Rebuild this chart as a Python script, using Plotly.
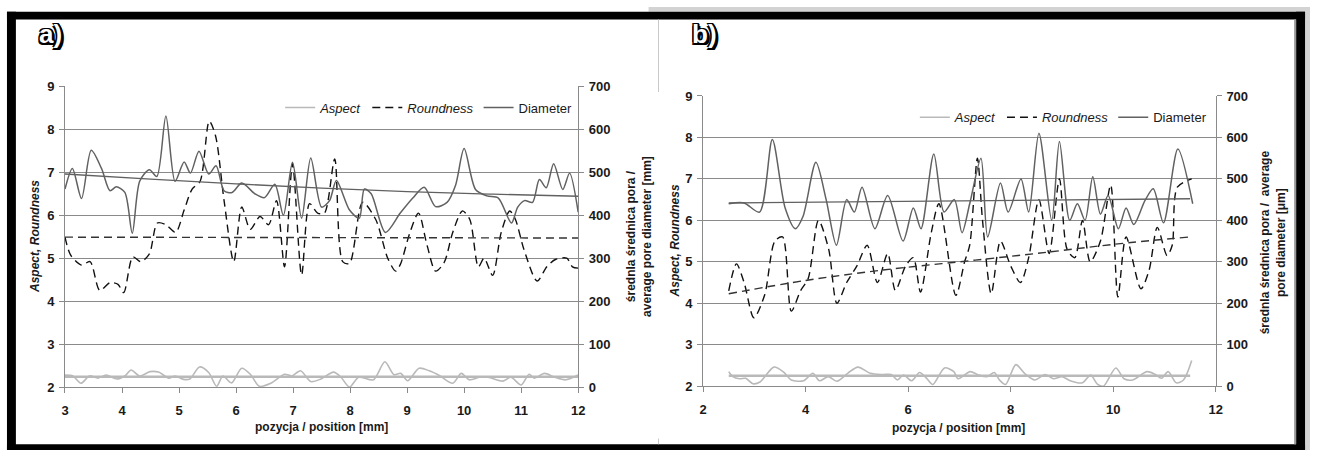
import plotly.graph_objects as go

W, H = 1317, 458

# ---- panel a: position [mm] vs shape factors / pore diameter ----
x_asp_a = [3.0, 3.14, 3.28, 3.43, 3.58, 3.72, 3.91, 4.05, 4.16, 4.31, 4.49, 4.64, 4.82, 4.93,
           5.08, 5.19, 5.36, 5.52, 5.66, 5.77, 5.92, 6.1, 6.25, 6.41, 6.61, 6.85, 6.98, 7.13,
           7.31, 7.49, 7.71, 7.84, 7.99, 8.15, 8.41, 8.61, 8.77, 8.89, 9.01, 9.21, 9.39, 9.58,
           9.8, 9.95, 10.09, 10.27, 10.42, 10.68, 10.82, 11.0, 11.14, 11.23, 11.41, 11.59,
           11.78, 12.0]
asp_a = [2.28, 2.26, 2.09, 2.26, 2.21, 2.28, 2.19, 2.26, 2.4, 2.26, 2.36, 2.35, 2.21, 2.26,
         2.18, 2.19, 2.47, 2.34, 2.02, 2.26, 2.1, 2.44, 2.3, 2.02, 2.09, 2.3, 2.26, 2.38,
         2.13, 2.19, 2.35, 2.23, 2.0, 2.23, 2.17, 2.59, 2.29, 2.32, 2.15, 2.44, 2.38, 2.26,
         2.09, 2.32, 2.17, 2.23, 2.23, 2.14, 2.23, 2.05, 2.3, 2.21, 2.32, 2.23, 2.17, 2.28]
x_asp_trend_a = [3.0, 12.0]
asp_trend_a = [2.24, 2.24]

x_rnd_a = [3.0, 3.1, 3.29, 3.44, 3.61, 3.79, 3.93, 4.03, 4.19, 4.33, 4.48, 4.62, 4.77, 4.94,
           5.09, 5.23, 5.37, 5.53, 5.64, 5.79, 5.96, 6.1, 6.25, 6.42, 6.57, 6.71, 6.85, 6.99,
           7.15, 7.29, 7.43, 7.55, 7.73, 7.87, 7.99, 8.22, 8.45, 8.66, 8.8, 8.88, 9.05, 9.2,
           9.35, 9.5, 9.65, 9.8, 9.97, 10.1, 10.25, 10.35, 10.5, 10.65, 10.8, 10.9, 11.05,
           11.28, 11.45, 11.6, 11.8, 11.9, 12.0]
rnd_a = [5.49, 5.07, 4.84, 4.92, 4.25, 4.43, 4.39, 4.2, 5.03, 4.92, 5.1, 5.82, 5.78, 5.6,
         6.12, 6.61, 6.79, 8.19, 7.85, 6.34, 4.92, 6.19, 5.67, 5.97, 5.78, 6.34, 4.8, 7.2,
         4.61, 6.27, 6.05, 6.05, 7.31, 4.92, 4.88, 6.3, 5.9, 5.0, 4.7, 4.85, 5.6, 6.05,
         5.3, 4.7, 4.9, 5.6, 6.1, 5.9, 4.8, 5.0, 4.6, 5.6, 6.1, 5.9, 5.2,
         4.47, 4.8, 4.97, 5.0, 4.8, 4.77]
x_rnd_trend_a = [3.0, 12.0]
rnd_trend_a = [5.49, 5.47]

x_dia_a = [3.0, 3.13, 3.29, 3.46, 3.64, 3.79, 3.9, 4.05, 4.18, 4.31, 4.48, 4.61, 4.77, 4.93,
           5.09, 5.2, 5.35, 5.52, 5.65, 5.79, 5.93, 6.1, 6.33, 6.5, 6.68, 6.83, 6.99, 7.15,
           7.31, 7.5, 7.64, 7.76, 7.99, 8.16, 8.25, 8.37, 8.62, 8.88, 9.1, 9.3, 9.5, 9.7,
           9.85, 10.0, 10.2, 10.4, 10.6, 10.83, 10.94, 11.06, 11.2, 11.32, 11.44, 11.57,
           11.73, 11.85, 12.0]
dia_a = [461, 509, 439, 551, 509, 457, 466, 453, 358, 479, 506, 490, 631, 479,
         524, 498, 549, 496, 515, 457, 453, 475, 450, 441, 472, 400, 523, 393,
         533, 419, 434, 481, 412, 393, 461, 450, 360, 405, 440, 465, 420, 430,
         470, 555, 460, 445, 440, 382, 419, 434, 430, 483, 464, 520,
         460, 498, 407]
x_dia_trend_a = [3.0, 4.5, 6.0, 7.5, 9.0, 10.5, 12.0]
dia_trend_a = [496, 484, 473, 463, 455, 449, 444]

# ---- panel b ----
x_asp_b = [2.5, 2.58, 2.71, 2.83, 2.97, 3.11, 3.38, 3.56, 3.72, 3.96, 4.14, 4.27, 4.44, 4.61,
           4.82, 5.02, 5.26, 5.5, 5.67, 5.79, 5.91, 6.07, 6.22, 6.36, 6.48, 6.71, 6.89, 6.97,
           7.21, 7.37, 7.54, 7.68, 7.78, 7.9, 8.1, 8.27, 8.47, 8.67, 8.83, 9.0, 9.16, 9.4,
           9.56, 9.69, 9.81, 10.05, 10.21, 10.38, 10.66, 10.82, 10.94, 11.07, 11.23, 11.37,
           11.53]
asp_b = [2.35, 2.23, 2.18, 2.19, 2.06, 2.1, 2.46, 2.35, 2.15, 2.13, 2.31, 2.13, 2.23, 2.12,
         2.31, 2.46, 2.31, 2.28, 2.28, 2.15, 2.27, 2.13, 2.33, 2.19, 2.04, 2.44, 2.35, 2.18,
         2.35, 2.27, 2.23, 2.33, 2.15, 2.04, 2.52, 2.31, 2.15, 2.28, 2.18, 2.23, 2.13, 2.08,
         2.27, 2.05, 2.0, 2.44, 2.18, 2.15, 2.35, 2.28, 2.19, 2.35, 2.08, 2.15, 2.62]
x_asp_trend_b = [2.5, 11.5]
asp_trend_b = [2.25, 2.25]

x_rnd_b = [2.5, 2.65, 2.8, 2.99, 3.2, 3.4, 3.55, 3.72, 3.9, 4.05, 4.25, 4.45, 4.61, 4.8,
           5.0, 5.2, 5.4, 5.6, 5.75, 5.95, 6.1, 6.24, 6.45, 6.6, 6.93, 7.1, 7.2, 7.35, 7.45,
           7.62, 7.8, 8.0, 8.19, 8.35, 8.55, 8.75, 8.95, 9.1, 9.25, 9.4, 9.55, 9.75, 9.95,
           10.09, 10.25, 10.54, 10.7, 10.86, 11.05, 11.15, 11.25, 11.53]
rnd_b = [4.3, 4.95, 4.5, 3.65, 4.2, 5.5, 5.6, 3.81, 4.3, 4.6, 6.0, 5.3, 4.0, 4.5,
         4.9, 5.4, 4.5, 5.2, 4.31, 4.9, 5.1, 4.27, 5.7, 6.4, 4.19, 5.0, 5.4, 7.5, 6.0,
         4.23, 5.5, 4.9, 4.5, 5.1, 6.5, 5.2, 7.0, 5.3, 5.1, 6.0, 5.0, 5.5, 6.85,
         4.15, 5.6, 4.35, 4.8, 5.83, 5.15, 5.4, 6.8, 7.0]
x_rnd_trend_b = [2.5, 4.0, 5.5, 7.0, 8.5, 10.0, 11.5]
rnd_trend_b = [4.23, 4.55, 4.8, 5.0, 5.2, 5.42, 5.6]

x_dia_b = [2.5, 2.8, 3.1, 3.35, 3.6, 3.8, 3.95, 4.2, 4.4, 4.6, 4.8, 4.95, 5.1, 5.35, 5.6,
           5.9, 6.1, 6.25, 6.5, 6.7, 6.9, 7.05, 7.2, 7.42, 7.55, 7.8, 7.95, 8.2, 8.35, 8.55,
           8.8, 8.95, 9.15, 9.3, 9.45, 9.6, 9.75, 9.9, 10.1, 10.25, 10.4, 10.62, 10.78,
           10.98, 11.26, 11.55]
dia_b = [440, 442, 420, 595, 430, 380, 410, 540, 450, 340, 450, 420, 480, 380, 460,
         350, 430, 380, 560, 420, 450, 370, 440, 550, 360, 490, 420, 500, 420, 610,
         400, 590, 400, 440, 400, 505, 415, 460, 380, 430, 390, 448, 476,
         394, 572, 440]
x_dia_trend_b = [2.5, 11.5]
dia_trend_b = [442, 452]

C_ASP = "#b9b9b9"
C_DIA = "#616161"
C_RND = "#111111"
GRID = "#8a8a8a"
FONT = "Liberation Sans, Arial, sans-serif"


def fx(p):
    return p / W


def fy(p):
    return 1 - p / H


fig = go.Figure()


def add_panel(lg, xa, ya, ya2, x_asp, asp, x_at, at, x_r, r, x_rt, rt, x_d, d, x_dt, dt):
    fig.add_trace(go.Scatter(x=x_asp, y=asp, name="<i>Aspect</i>", xaxis=xa, yaxis=ya,
                             mode="lines", line=dict(color=C_ASP, width=1.6, shape="spline", smoothing=0.8),
                             legend=lg, showlegend=True))
    fig.add_trace(go.Scatter(x=x_r, y=r, name="<i>Roundness</i>", xaxis=xa, yaxis=ya,
                             mode="lines", line=dict(color=C_RND, width=1.4, dash="8px,5px",
                                                     shape="spline", smoothing=0.8),
                             legend=lg, showlegend=True))
    fig.add_trace(go.Scatter(x=x_d, y=d, name="Diameter", xaxis=xa, yaxis=ya2,
                             mode="lines", line=dict(color=C_DIA, width=1.5, shape="spline", smoothing=0.8),
                             legend=lg, showlegend=True))
    fig.add_trace(go.Scatter(x=x_at, y=at, xaxis=xa, yaxis=ya, mode="lines", showlegend=False,
                             line=dict(color=C_ASP, width=2.6)))
    fig.add_trace(go.Scatter(x=x_rt, y=rt, xaxis=xa, yaxis=ya, mode="lines", showlegend=False,
                             line=dict(color="#333333", width=1.4, dash="8px,5px", shape="spline")))
    fig.add_trace(go.Scatter(x=x_dt, y=dt, xaxis=xa, yaxis=ya2, mode="lines", showlegend=False,
                             line=dict(color=C_DIA, width=1.4, shape="spline")))


add_panel("legend", "x", "y", "y2", x_asp_a, asp_a, x_asp_trend_a, asp_trend_a,
          x_rnd_a, rnd_a, x_rnd_trend_a, rnd_trend_a, x_dia_a, dia_a, x_dia_trend_a, dia_trend_a)
add_panel("legend2", "x2", "y3", "y4", x_asp_b, asp_b, x_asp_trend_b, asp_trend_b,
          x_rnd_b, rnd_b, x_rnd_trend_b, rnd_trend_b, x_dia_b, dia_b, x_dia_trend_b, dia_trend_b)

tickfont = dict(family=FONT, size=13, color="#1a1a1a", weight="bold")
common_y = dict(showgrid=True, gridcolor=GRID, gridwidth=1, showline=True, linecolor=GRID,
                linewidth=1, ticks="outside", ticklen=5, tickcolor=GRID, tickfont=tickfont,
                zeroline=False, fixedrange=True, ticklabelstandoff=2)
common_y2 = dict(showgrid=False, showline=True, linecolor=GRID, ticks="outside", ticklen=5,
                 tickcolor=GRID, tickfont=tickfont, zeroline=False, ticklabelstandoff=2)
common_x = dict(showgrid=False, showline=True, linecolor=GRID, linewidth=1, ticks="outside",
                ticklen=5, tickcolor=GRID, tickfont=tickfont, zeroline=False, ticklabelstandoff=6)

dom_xa = [fx(61.5), fx(579)]
dom_ya = [fy(393), fy(82)]
dom_xb = [fx(705), fx(1222)]
dom_yb = [fy(392), fy(92)]

fig.update_layout(
    width=W, height=H, margin=dict(l=0, r=0, t=0, b=0),
    paper_bgcolor="white", plot_bgcolor="white",
    font=dict(family=FONT, color="#1a1a1a"),
    xaxis=dict(domain=dom_xa, range=[3, 12], dtick=1, anchor="y", **common_x),
    yaxis=dict(domain=dom_ya, range=[2, 9], dtick=1, anchor="x", **common_y),
    yaxis2=dict(overlaying="y", side="right", range=[0, 700], dtick=100, anchor="x", **common_y2),
    xaxis2=dict(domain=dom_xb, range=[2, 12], dtick=2, anchor="y3", **common_x),
    yaxis3=dict(domain=dom_yb, range=[2, 9], dtick=1, anchor="x2", **common_y),
    yaxis4=dict(overlaying="y3", side="right", range=[0, 700], dtick=100, anchor="x2", **common_y2),
    legend=dict(orientation="h", x=fx(578), xanchor="right", y=fy(104), yanchor="middle",
                bgcolor="rgba(0,0,0,0)", font=dict(family=FONT, size=13, color="#1a1a1a"),
                itemwidth=30, tracegroupgap=0),
    legend2=dict(orientation="h", x=fx(1218), xanchor="right", y=fy(114), yanchor="middle",
                 bgcolor="rgba(0,0,0,0)", font=dict(family=FONT, size=13, color="#1a1a1a"),
                 itemwidth=30, tracegroupgap=0),
    showlegend=True,
)

title_font = dict(family=FONT, size=12, color="#1a1a1a", weight="bold")
outline = ("-1.5px -1.5px 0 #000, 1.5px -1.5px 0 #000, -1.5px 1.5px 0 #000, "
           "1.5px 1.5px 0 #000, 0 2px 0 #000, 2px 0 0 #000, 3px 2px 0 #000")
annotations = [
    dict(text="<b><i>Aspect, Roundness</i></b>", x=fx(32), y=fy(237), textangle=-90),
    dict(text="<b>średnla średnica pora /<br>average pore diameter [mm]</b>",
         x=fx(641), y=fy(237), textangle=-90),
    dict(text="<b>pozycja / position [mm]</b>", x=fx(320), y=fy(434)),
    dict(text="<b><i>Aspect, Roundness</i></b>", x=fx(677), y=fy(242), textangle=-90),
    dict(text="<b>średnla średnica pora /  average<br>pore diameter [μm]</b>",
         x=fx(1280), y=fy(243), textangle=-90),
    dict(text="<b>pozycja / position [mm]</b>", x=fx(963), y=fy(435)),
]
for a in annotations:
    a.update(xref="paper", yref="paper", showarrow=False, font=title_font,
             xanchor="center", yanchor="middle")
for lab, xc in (("a)", 47), ("b)", 706)):
    annotations.append(dict(text="<b>%s</b>" % lab, x=fx(xc), y=fy(28), xref="paper", yref="paper",
                            showarrow=False, xanchor="center", yanchor="middle",
                            font=dict(family=FONT, size=26, color="white", weight="bold",
                                      shadow=outline)))
fig.update_layout(annotations=annotations)

# page frame: grey surround, black border, thin divider between the two panels
shapes = []


def rect(x0, y0, x1, y1, color):
    shapes.append(dict(type="rect", xref="paper", yref="paper", x0=fx(x0), x1=fx(x1),
                       y0=fy(y1), y1=fy(y0), fillcolor=color, line=dict(width=0), layer="above"))


rect(650, 0, 1317, 5, "#d3d3d3")
rect(1312, 0, 1317, 458, "#d3d3d3")
rect(3, 5, 1312, 13, "#000000")
rect(3, 5, 12, 458, "#000000")
rect(1303, 5, 1312, 458, "#000000")
rect(3, 452, 1312, 458, "#000000")
rect(1301, 13, 1303, 452, "#9a9a9a")
rect(659.5, 13, 660.5, 88, "#c8c8c8")
rect(659.5, 446, 660.5, 452, "#c8c8c8")
fig.update_layout(shapes=shapes)

fig.write_html("out.html")
